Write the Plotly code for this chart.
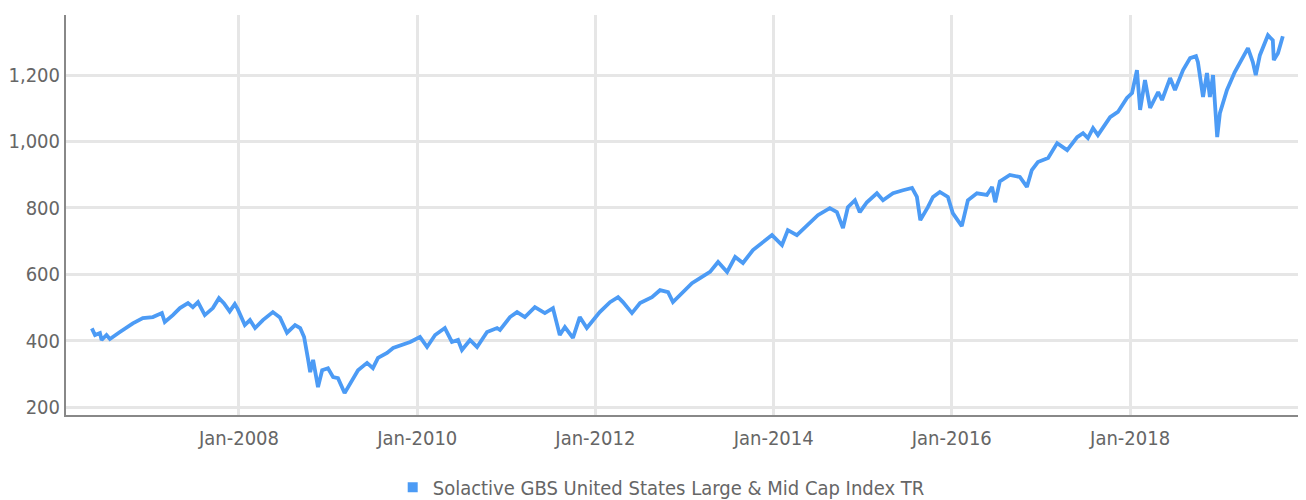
import plotly.graph_objects as go

series_name = "Solactive GBS United States Large & Mid Cap Index TR"

dates = [
    "2006-05-08", "2006-05-21", "2006-06-10", "2006-06-17", "2006-07-07", "2006-07-21",
    "2006-08-31", "2006-10-23", "2006-12-03", "2007-01-13", "2007-02-19", "2007-03-03",
    "2007-04-05", "2007-05-04", "2007-06-06", "2007-06-26", "2007-07-17", "2007-08-14",
    "2007-09-16", "2007-10-11", "2007-10-31", "2007-11-24", "2007-12-15", "2007-12-27",
    "2008-01-25", "2008-02-15", "2008-03-07", "2008-04-08", "2008-05-19", "2008-06-17",
    "2008-07-16", "2008-08-18", "2008-09-08", "2008-09-24", "2008-10-10", "2008-10-19",
    "2008-10-31", "2008-11-20", "2008-12-07", "2008-12-31", "2009-01-21", "2009-02-10",
    "2009-03-09", "2009-03-31", "2009-05-03", "2009-06-09", "2009-07-03", "2009-07-24",
    "2009-08-30", "2009-09-24", "2009-10-31", "2009-12-03", "2010-01-12", "2010-02-10",
    "2010-03-15", "2010-04-24", "2010-05-23", "2010-06-17", "2010-07-03", "2010-08-05",
    "2010-09-03", "2010-10-14", "2010-11-24", "2010-12-06", "2011-01-16", "2011-02-14",
    "2011-03-18", "2011-04-28", "2011-06-08", "2011-07-11", "2011-08-08", "2011-08-29",
    "2011-10-01", "2011-10-29", "2011-11-27", "2011-12-22", "2012-01-19", "2012-03-01",
    "2012-04-03", "2012-04-23", "2012-05-30", "2012-07-02", "2012-08-20", "2012-09-22",
    "2012-10-25", "2012-11-14", "2012-12-21", "2013-01-31", "2013-03-05", "2013-04-15",
    "2013-05-18", "2013-06-24", "2013-07-27", "2013-08-28", "2013-10-08", "2013-11-18",
    "2013-12-25", "2014-02-04", "2014-02-28", "2014-04-06", "2014-05-17", "2014-07-01",
    "2014-08-19", "2014-09-17", "2014-10-12", "2014-11-01", "2014-11-30", "2014-12-20",
    "2015-01-18", "2015-02-28", "2015-03-25", "2015-05-05", "2015-06-15", "2015-07-22",
    "2015-08-11", "2015-08-25", "2015-09-25", "2015-10-16", "2015-11-13", "2015-12-16",
    "2016-01-05", "2016-02-11", "2016-03-07", "2016-04-13", "2016-05-24", "2016-06-14",
    "2016-06-27", "2016-07-16", "2016-08-26", "2016-10-06", "2016-11-04", "2016-11-24",
    "2016-12-19", "2017-01-30", "2017-03-08", "2017-04-18", "2017-05-29", "2017-06-22",
    "2017-07-12", "2017-08-02", "2017-08-22", "2017-10-11", "2017-11-12", "2017-12-19",
    "2018-01-09", "2018-01-29", "2018-02-11", "2018-03-03", "2018-03-24", "2018-04-26",
    "2018-05-12", "2018-06-14", "2018-07-04", "2018-08-06", "2018-09-04", "2018-09-28",
    "2018-10-06", "2018-10-27", "2018-11-12", "2018-11-24", "2018-12-07", "2018-12-24",
    "2019-01-04", "2019-02-02", "2019-03-06", "2019-04-08", "2019-04-29", "2019-05-19",
    "2019-05-31", "2019-06-17", "2019-07-20", "2019-08-09", "2019-08-13", "2019-08-30",
    "2019-09-19",
]

values = [
    437, 417, 423, 402, 417, 405,
    426, 452, 468, 471, 483, 456,
    477, 498, 513, 501, 516, 477,
    498, 528, 513, 488, 510, 495,
    447, 462, 438, 462, 486, 470,
    424, 447, 438, 411, 345, 305,
    342, 260, 311, 317, 290, 287,
    242, 272, 311, 333, 317, 348,
    363, 378, 387, 396, 411, 381,
    417, 438, 396, 402, 372, 402,
    381, 426, 438, 432, 471, 486,
    471, 501, 483, 498, 417, 441,
    408, 471, 438, 462, 486, 516,
    531, 516, 483, 513, 531, 552,
    546, 516, 543, 573, 588, 607,
    637, 607, 652, 634, 673, 697,
    718, 688, 733, 718, 748, 778,
    799, 787, 739, 802, 823, 787,
    817, 844, 823, 844, 853, 860,
    833, 763, 802, 833, 848, 833,
    784, 745, 823, 844, 839, 863,
    817, 880, 899, 893, 863, 914,
    938, 950, 995, 974, 1013, 1025,
    1010, 1040, 1019, 1073, 1089, 1131,
    1146, 1215, 1095, 1185, 1101, 1149,
    1125, 1191, 1155, 1215, 1251, 1257,
    1239, 1134, 1206, 1134, 1200, 1013,
    1085, 1155, 1209, 1254, 1281, 1239,
    1200, 1260, 1320, 1305, 1245, 1266,
    1317,
]

y_ticks = [200, 400, 600, 800, 1000, 1200]
x_ticks = ["2008-01-01", "2010-01-01", "2012-01-01", "2014-01-01", "2016-01-01", "2018-01-01"]
x_tick_labels = ["Jan-2008", "Jan-2010", "Jan-2012", "Jan-2014", "Jan-2016", "Jan-2018"]

BLUE = "#4C9BF5"
FONT = "DejaVu Sans Condensed, sans-serif"

fig = go.Figure()
fig.add_trace(go.Scatter(
    x=dates, y=values, mode="lines",
    line=dict(color=BLUE, width=3.8),
    showlegend=False, name=series_name,
))
fig.add_trace(go.Scatter(
    x=[None], y=[None], mode="markers",
    marker=dict(symbol="square", size=10, color=BLUE),
    name=series_name, showlegend=True,
))

fig.update_layout(
    width=1298, height=492,
    margin=dict(l=58, r=0, t=7, b=85),
    paper_bgcolor="white", plot_bgcolor="white",
    font=dict(family=FONT, size=20, color="#666666"),
    legend=dict(orientation="h", x=0.48, xanchor="center",
                yref="container", y=0.026, yanchor="middle",
                font=dict(size=20, color="#666666"), itemwidth=30),
    xaxis=dict(
        type="date", range=["2006-01-22", "2019-12-23"],
        tickvals=x_ticks, ticktext=x_tick_labels,
        showgrid=True, gridcolor="#e6e6e6", gridwidth=3,
        showline=True, linecolor="#888888", linewidth=2,
        ticks="", zeroline=False, automargin=False,
        ticklabelstandoff=4,
        tickfont=dict(size=20, color="#666666"),
    ),
    yaxis=dict(
        range=[176, 1381], tickvals=y_ticks, tickformat=",",
        showgrid=True, gridcolor="#e6e6e6", gridwidth=3,
        showline=True, linecolor="#888888", linewidth=2,
        ticks="", zeroline=False, automargin=False,
        tickfont=dict(size=20, color="#666666"),
    ),
)

fig.write_html("out.html")
